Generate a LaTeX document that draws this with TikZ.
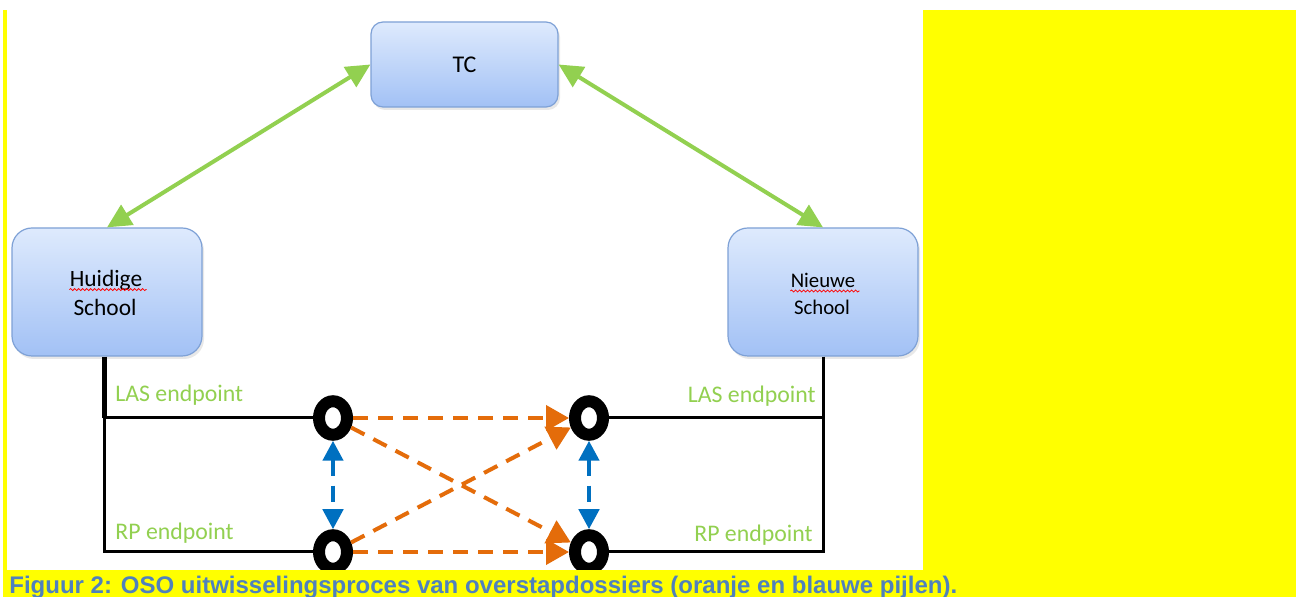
\documentclass[tikz,border=0pt]{standalone}
\usepackage{fontspec}
\setmainfont{Carlito}
\newfontfamily\capfont{Liberation Sans}
\usetikzlibrary{arrows.meta,shapes.geometric,decorations.pathmorphing,shadows}
\definecolor{boxtop}{RGB}{222,234,253}
\definecolor{boxbot}{RGB}{162,193,245}
\definecolor{boxline}{RGB}{126,161,214}
\definecolor{grn}{RGB}{146,208,80}
\definecolor{org}{RGB}{228,108,10}
\definecolor{blu}{RGB}{0,112,192}
\definecolor{capblue}{RGB}{79,129,189}
\definecolor{yel}{RGB}{255,255,0}
\begin{document}
\begin{tikzpicture}[x=0.5pt,y=-0.5pt,
  box/.style={draw=boxline, line width=0.6pt, top color=boxtop, bottom color=boxbot,
    drop shadow={opacity=0.18, shadow xshift=1pt, shadow yshift=-1.5pt}, inner sep=0},
  ring/.style={ellipse, draw=black, line width=6pt, minimum width=14pt, minimum height=16.75pt, inner sep=0},
  greenarrow/.style={draw=grn, line width=2pt, {Triangle[length=12pt,width=11.5pt]}-{Triangle[length=12pt,width=11.5pt]}},
  orangearrow/.style={draw=org, line width=2pt, dash pattern=on 7.5pt off 5pt, -{Triangle[length=11.5pt,width=12.5pt]}},
  bluearrow/.style={draw=blu, line width=2.25pt, dash pattern=on 8pt off 5pt, {Triangle[length=10pt,width=10pt]}-{Triangle[length=10pt,width=10pt]}},
  wire/.style={draw=black, line width=1.5pt},
  wirethick/.style={draw=black, line width=2.2pt},
  lbl/.style={text=grn, font=\fontsize{11.9}{14}\selectfont, inner sep=0},
  boxtext/.style={inner sep=0, font=\fontsize{11.7}{14}\selectfont},
  boxtextsmall/.style={inner sep=0, font=\fontsize{10.4}{13}\selectfont},
  tctext/.style={inner sep=0, font=\fontsize{12}{14}\selectfont},
  squig/.style={draw=red, line width=0.4pt, decorate, decoration={snake, amplitude=0.5pt, segment length=2pt}},
]
\useasboundingbox (0,0) rectangle (1296,597);
\fill[white] (0,0) rectangle (1296,597);

% boxes
\node[box, rounded corners=6pt, minimum width=93.5pt, minimum height=42.5pt] (tc) at (464.5,64.5) {};
\node[box, rounded corners=10pt, minimum width=95pt, minimum height=64pt] (hs) at (107,292) {};
\node[box, rounded corners=10pt, minimum width=95pt, minimum height=64pt] (ns) at (823,292) {};

\node[tctext] (tct) at (tc.center) {TC};
\node[boxtext, anchor=base] (hw1) at (106,287) {Huidige};
\node[boxtext, anchor=base] (hw2) at (105,316) {School};
\node[boxtextsmall, anchor=base] (nw1) at (823,288) {Nieuwe};
\node[boxtextsmall, anchor=base] (nw2) at (822,315) {School};
\draw[squig] ([yshift=-1.3pt]hw1.base west) -- ([yshift=-1.3pt,xshift=2pt]hw1.base east);
\draw[squig] ([yshift=-1.5pt]nw1.base west) -- ([yshift=-1.5pt,xshift=2pt]nw1.base east);

% green arrows
\draw[greenarrow] (tc.west) -- (hs.north);
\draw[greenarrow] (tc.east) -- (ns.north);

% rings
\node[ring] (l1) at (333,418) {};
\node[ring] (l2) at (333,552) {};
\node[ring] (r1) at (589,418) {};
\node[ring] (r2) at (589,552) {};

% wires
\coordinate (hsb) at ([xshift=-1.25pt]hs.south);
\coordinate (nsb) at (ns.south);
\draw[wirethick] (hsb) -- (hsb |- l1);
\draw[wire] (hsb |- l1) -- (l1.west);
\draw[wire] (hsb |- l1) |- (l2.west);
\draw[wire] (nsb) -- (nsb |- r2) -- (r2.east);
\draw[wire] (nsb |- r1) -- (r1.east);

% labels
\node[lbl, anchor=base west] (las1) at (115,402) {LAS endpoint};
\node[lbl, anchor=base west] (rp1) at (115,540) {RP endpoint};
\node[lbl, anchor=base east] (las2) at (816,403) {LAS endpoint};
\node[lbl, anchor=base east] (rp2) at (813,542) {RP endpoint};

% orange arrows
\draw[orangearrow] (l1) -- (r1);
\draw[orangearrow] (l1) -- (r2);
\draw[orangearrow] (l2) -- (r1);
\draw[orangearrow] (l2) -- (r2);

% blue arrows
\draw[bluearrow] (l1) -- (l2);
\draw[bluearrow] (r1) -- (r2);

% yellow highlight
\fill[yel] (3,10) rectangle (7,570);
\fill[yel] (923,10) rectangle (1296,597);
\fill[yel] (3,570) rectangle (1296,597);

\node[anchor=base west, inner sep=0, text=capblue, font=\capfont\bfseries\fontsize{12}{14}\selectfont] (cap) at (9,594)
  {Figuur 2: OSO uitwisselingsproces van overstapdossiers (oranje en blauwe pijlen).};
\end{tikzpicture}
\end{document}
